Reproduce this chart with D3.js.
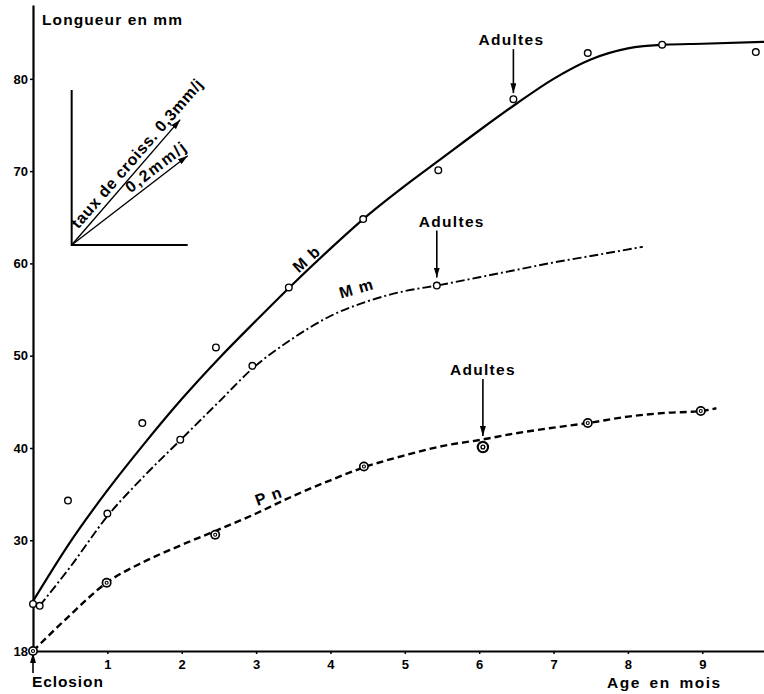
<!DOCTYPE html>
<html>
<head>
<meta charset="utf-8">
<script src="https://cdn.jsdelivr.net/npm/d3@7"></script>
<style>
body { margin: 0; background: #fff; }
svg text { font-family: "Liberation Sans", Arial, sans-serif; font-weight: bold; fill: #000; }
</style>
</head>
<body>
<svg width="764" height="694"></svg>
<script>
// observed points (age in months, length in mm)
var mbAge = [0, 0.47, 1.47, 2.46, 3.44, 4.44, 5.45, 6.46, 7.46, 8.46, 9.72];
var mbLen = [23.1, 34.3, 42.7, 50.9, 57.4, 64.8, 70.1, 77.8, 82.8, 83.7, 82.9];
var mmAge = [0.09, 1.0, 1.98, 2.95, 5.43];
var mmLen = [22.9, 32.9, 40.9, 48.9, 57.6];
var pnAge = [0, 0.99, 2.45, 4.45, 6.05, 7.46, 8.98];
var pnLen = [18, 25.4, 30.6, 38.0, 40.1, 42.7, 44.0];

// hand drawn growth curves
var mbCurveAge = [0, 0.5, 1, 1.5, 2, 2.5, 3, 3.5, 4, 4.5, 5, 5.5, 6, 6.5, 7, 7.5, 8, 8.5, 9, 9.83];
var mbCurveLen = [23.4, 29.8, 35.4, 40.5, 45.3, 49.7, 53.8, 57.8, 61.6, 65.2, 68.4, 71.4, 74.4, 77.3, 80.0, 82.1, 83.3, 83.7, 83.8, 84.0];
var mmCurveAge = [0.09, 0.5, 1.0, 1.5, 2.0, 2.5, 2.95, 3.5, 4.0, 4.5, 5.0, 5.43, 6.0, 6.5, 7.0, 7.5, 8.2];
var mmCurveLen = [22.9, 27.1, 32.6, 37.0, 41.0, 45.0, 48.6, 51.9, 54.3, 55.9, 57.0, 57.6, 58.5, 59.3, 60.1, 60.8, 61.8];
var pnCurveAge = [0, 0.5, 0.99, 1.5, 2.0, 2.45, 3.0, 3.5, 4.0, 4.45, 5.0, 5.5, 6.03, 6.5, 7.0, 7.46, 8.0, 8.5, 8.98, 9.19];
var pnCurveLen = [18, 21.9, 25.4, 27.7, 29.5, 31.0, 32.9, 34.8, 36.5, 37.9, 39.2, 40.2, 40.9, 41.6, 42.2, 42.7, 43.4, 43.8, 44.0, 44.3];

var xTicks = [1, 2, 3, 4, 5, 6, 7, 8, 9];
var yTicks = [18, 30, 40, 50, 60, 70, 80];

// "Adultes" arrows: age / length of the point pointed at
var adultAge = [6.46, 5.43, 6.05];
var adultLen = [77.8, 57.6, 40.1];

// growth rate scale (mm per day)
var rates = [0.3, 0.2];

var svg = d3.select("svg");

var x = d3.scaleLinear().domain([0, 9.83]).range([33, 764]);
var y = d3.scaleLinear().domain([18, 88]).range([651, 5]);

var defs = svg.append("defs");
defs.append("marker")
	.attr("id", "head")
	.attr("viewBox", "0 0 10 10")
	.attr("preserveAspectRatio", "none")
	.attr("refX", 10).attr("refY", 5)
	.attr("markerWidth", 10).attr("markerHeight", 6)
	.attr("markerUnits", "userSpaceOnUse")
	.attr("orient", "auto")
	.append("path").attr("d", "M0,0L10,5L0,10z").attr("fill", "#000");

// axes
var gx = svg.append("g")
	.attr("transform", "translate(0," + y(18) + ")")
	.call(d3.axisBottom(x).tickValues(xTicks).tickSize(3).tickSizeOuter(0).tickPadding(6).tickFormat(d3.format("d")));
var gy = svg.append("g")
	.attr("transform", "translate(" + x(0) + ",0)")
	.call(d3.axisLeft(y).tickValues(yTicks).tickSize(3).tickSizeOuter(0).tickPadding(2));
[gx, gy].forEach(function(g) {
	g.select(".domain").attr("stroke-width", 2.2);
	g.selectAll(".tick line").attr("stroke-width", 1.5);
	g.selectAll(".tick text").attr("font-size", 13).attr("font-family", null);
});
gy.selectAll(".tick").filter(function(d) { return d === 18; }).select("line").remove();

svg.append("text").attr("x", 42).attr("y", 25)
	.attr("font-size", 15.5).attr("letter-spacing", 1.1)
	.text("Longueur en mm");
svg.append("text").attr("x", 607).attr("y", 688)
	.attr("font-size", 15.5).attr("letter-spacing", 1.5).attr("word-spacing", 3)
	.text("Age en mois");
svg.append("text").attr("x", 32).attr("y", 687)
	.attr("font-size", 15.5).attr("letter-spacing", 0.9)
	.text("Eclosion");
svg.append("line")
	.attr("x1", x(0)).attr("x2", x(0)).attr("y1", 673).attr("y2", y(18) + 2)
	.attr("stroke", "#000").attr("stroke-width", 1.6).attr("marker-end", "url(#head)");

// curves
var line = d3.line()
	.x(function(d) { return x(d[0]); })
	.y(function(d) { return y(d[1]); })
	.curve(d3.curveMonotoneX);

svg.append("path").datum(d3.zip(mbCurveAge, mbCurveLen))
	.attr("d", line).attr("fill", "none").attr("stroke", "#000").attr("stroke-width", 2.2);
svg.append("path").datum(d3.zip(mmCurveAge, mmCurveLen))
	.attr("d", line).attr("fill", "none").attr("stroke", "#000").attr("stroke-width", 1.9)
	.attr("stroke-dasharray", "9,3,2,3");
svg.append("path").datum(d3.zip(pnCurveAge, pnCurveLen))
	.attr("d", line).attr("fill", "none").attr("stroke", "#000").attr("stroke-width", 2.4)
	.attr("stroke-dasharray", "7,4");

// points
svg.append("g").selectAll("circle")
	.data(d3.zip(mbAge, mbLen).concat(d3.zip(mmAge, mmLen)))
	.join("circle")
	.attr("cx", function(d) { return x(d[0]); })
	.attr("cy", function(d) { return y(d[1]); })
	.attr("r", 3.3)
	.attr("fill", "#fff").attr("stroke", "#000").attr("stroke-width", 1.4);

var bigPn = 4;
var pn = svg.append("g").selectAll("g")
	.data(d3.zip(pnAge, pnLen))
	.join("g")
	.attr("transform", function(d, i) {
		return "translate(" + x(d[0]) + "," + y(d[1]) + ") scale(" + (i === bigPn ? 1.25 : 1) + ")";
	});
pn.append("circle").attr("r", 5).attr("fill", "#000");
pn.append("circle").attr("r", 3.3).attr("fill", "#fff");
pn.append("circle").attr("r", 1.5).attr("fill", "none").attr("stroke", "#000").attr("stroke-width", 1.1);

// series labels
function label(txt, age, len, angle) {
	svg.append("text")
		.attr("transform", "translate(" + x(age) + "," + y(len) + ") rotate(" + angle + ")")
		.attr("text-anchor", "middle").attr("dy", "0.35em")
		.attr("font-size", 16).attr("letter-spacing", 1.2)
		.text(txt);
}
label("M b", 3.68, 60.5, -42);
label("M m", 4.35, 57.3, -16);
label("P n", 3.17, 34.8, -20);

// "Adultes" arrows
var adultGap = [6, 8, 11];
var adultLength = [44, 47, 57];
var adultDx = [-2, 15, 0];
adultAge.forEach(function(a, i) {
	var ax = x(a), y2 = y(adultLen[i]) - adultGap[i], y1 = y2 - adultLength[i];
	svg.append("line")
		.attr("x1", ax).attr("x2", ax).attr("y1", y1).attr("y2", y2)
		.attr("stroke", "#000").attr("stroke-width", 1.6).attr("marker-end", "url(#head)");
	svg.append("text")
		.attr("x", ax + adultDx[i]).attr("y", y1 - 4)
		.attr("text-anchor", "middle")
		.attr("font-size", 15.5).attr("letter-spacing", 1.3)
		.text("Adultes");
});

// growth rate inset
var o = [0.52, 62.0];
var ox = x(o[0]), oy = y(o[1]);
svg.append("path")
	.attr("d", "M" + ox + "," + y(78.8) + "V" + oy + "H" + x(2.08))
	.attr("fill", "none").attr("stroke", "#000").attr("stroke-width", 2);
var runs = [1.46, 1.56];
var rateText = ["taux de croiss. 0,3mm/j", "0,2mm/j"];
var textAlong = [16, 78];
var textOff = [5, 5];
var textSpacing = [0.7, 2];
rates.forEach(function(r, i) {
	var ex = x(o[0] + runs[i]), ey = y(o[1] + r * 31 * runs[i]);
	svg.append("line")
		.attr("x1", ox).attr("y1", oy).attr("x2", ex).attr("y2", ey)
		.attr("stroke", "#000").attr("stroke-width", 1.4).attr("marker-end", "url(#head)");
	var ang = Math.atan2(ey - oy, ex - ox);
	var deg = ang * 180 / Math.PI;
	var tx = ox + textAlong[i] * Math.cos(ang) + textOff[i] * Math.sin(ang);
	var ty = oy + textAlong[i] * Math.sin(ang) - textOff[i] * Math.cos(ang);
	svg.append("text")
		.attr("transform", "translate(" + tx + "," + ty + ") rotate(" + deg + ")")
		.attr("font-size", 16).attr("letter-spacing", textSpacing[i])
		.text(rateText[i]);
});
</script>
</body>
</html>
